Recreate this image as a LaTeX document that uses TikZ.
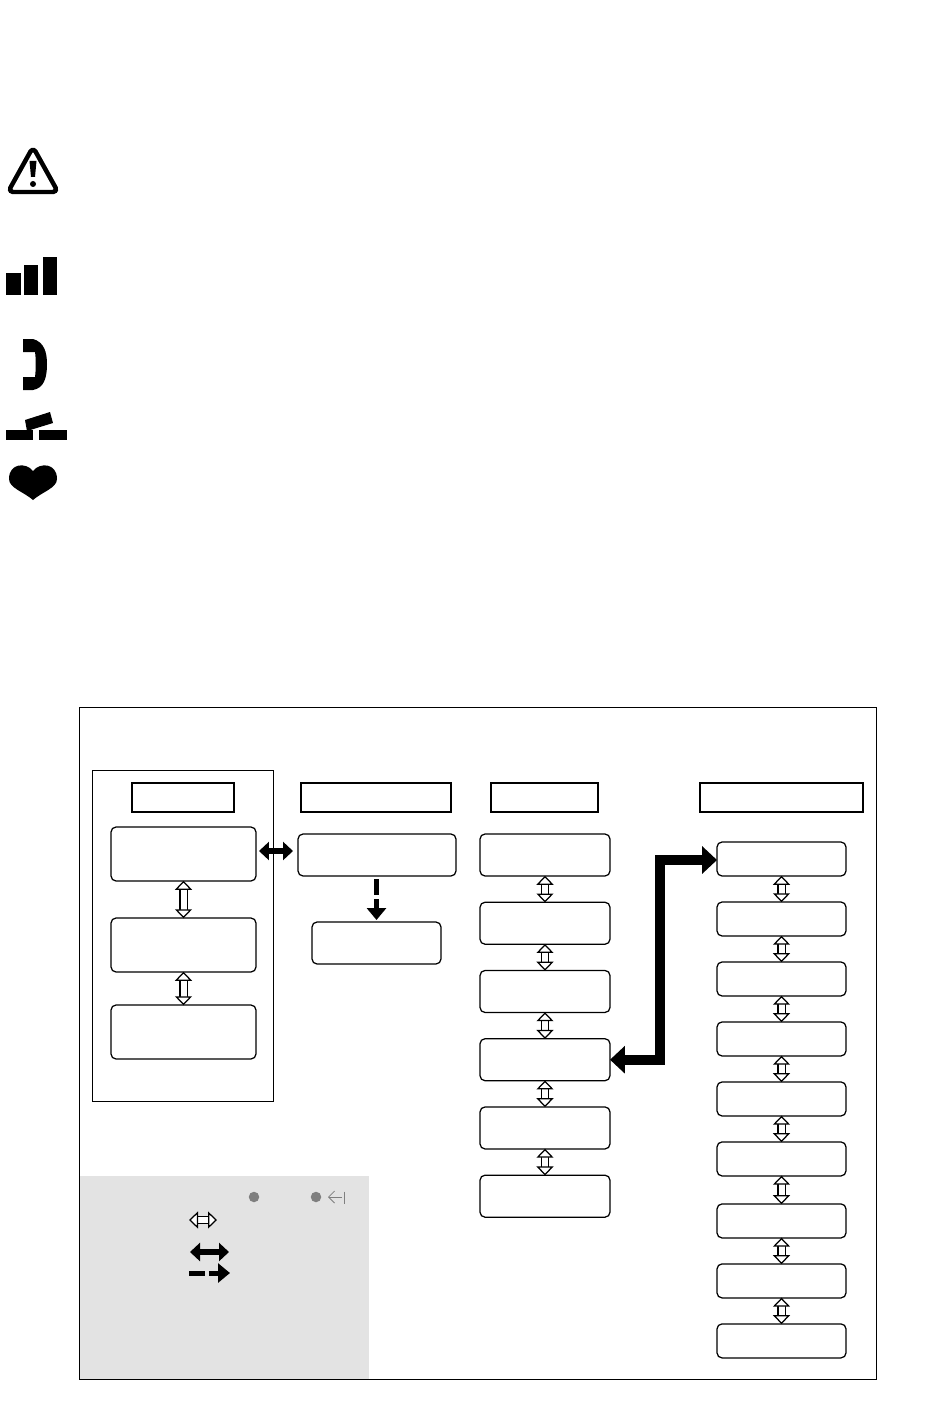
\documentclass[tikz,border=0pt]{standalone}
\usepackage{xcolor}
\usetikzlibrary{arrows.meta, positioning}

\definecolor{legendgray}{HTML}{E3E3E3}
\definecolor{dotgray}{HTML}{7F7F7F}

\tikzset{
  menubox/.style    = {draw, rounded corners = 0.1cm, line width = 0.025cm, outer sep = 0pt, inner sep = 0pt},
  wideitem/.style   = {menubox, minimum width = 2.9cm, minimum height = 1.08cm},
  listitem/.style   = {menubox, minimum width = 2.6cm, minimum height = 0.84cm},
  tinyitem/.style   = {menubox, minimum width = 2.58cm, minimum height = 0.68cm},
  headbox/.style    = {draw, line width = 0.035cm, outer sep = 0pt, inner sep = 0pt, minimum height = 0.58cm},
  hollowlink/.style = {double = white, double distance = 0.12cm, line width = 0.025cm,
                       {Triangle[open, fill = white, length = 0.18cm, width = 0.34cm]}-{Triangle[open, fill = white, length = 0.18cm, width = 0.34cm]},
                       shorten <= -0.005cm, shorten >= -0.005cm},
  boldlink/.style   = {line width = 0.11cm, {Triangle[length = 0.2cm, width = 0.36cm]}-{Triangle[length = 0.2cm, width = 0.36cm]}},
  dashlink/.style   = {line width = 0.1cm, dash pattern = on 0.32cm off 0.08cm, -{Triangle[length = 0.24cm, width = 0.38cm]}},
  jumplink/.style   = {line width = 0.2cm, {Triangle[length = 0.3cm, width = 0.54cm]}-{Triangle[length = 0.3cm, width = 0.54cm]}}
}

\begin{document}
\begin{tikzpicture}[x = 0.02cm, y = -0.02cm]
    \useasboundingbox (0, 0) rectangle (950, 1402);

    % frame and legend ground
    \fill[legendgray] (79.5, 1176) rectangle (369, 1379);
    \draw[line width = 0.02cm] (79.5, 707) rectangle (876, 1379);
    \draw[line width = 0.02cm] (92.5, 770) rectangle (273, 1101);

    % icons down the left side
    \draw[line width = 0.09cm, line join = round, rounded corners = 0.1cm] (33, 147) -- (58, 192) -- (8, 192) -- cycle;
    \fill (29.5, 161) -- (36.5, 161) -- (35, 177) -- (31, 177) -- cycle;
    \fill (33, 184) circle (3);

    \fill (6, 273) rectangle (21, 295);
    \fill (24, 265) rectangle (38, 295);
    \fill (43, 257) rectangle (57, 295);

    \fill (23, 339) -- (33, 339) .. controls (44, 342) and (47, 352) .. (47, 364)
          .. controls (47, 378) and (44, 388) .. (33, 390) -- (23, 390) -- (23, 377)
          -- (35, 377) .. controls (36, 370) and (36, 358) .. (35, 352) -- (23, 352) -- cycle;

    \fill (6, 430) rectangle (33, 440);
    \fill (39, 430) rectangle (67, 440);
    \fill (25, 420) -- (50, 412) -- (53, 423) -- (27, 431) -- cycle;

    \fill (33, 471) .. controls (26, 462) and (9, 463) .. (9, 479)
          .. controls (9, 488) and (24, 492) .. (33, 500)
          .. controls (42, 492) and (57, 488) .. (57, 479)
          .. controls (57, 463) and (40, 462) .. (33, 471) -- cycle;

    % column headers
    \node[headbox, minimum width = 2.04cm] (head1) at (183, 797.5)   {};
    \node[headbox, minimum width = 3cm]    (head2) at (376, 797.5)   {};
    \node[headbox, minimum width = 2.14cm] (head3) at (544.5, 797.5) {};
    \node[headbox, minimum width = 3.26cm] (head4) at (781.5, 797.5) {};

    % first column
    \node[wideitem] (one1) at (183.5, 854)  {};
    \node[wideitem] (one2) at (183.5, 945)  {};
    \node[wideitem] (one3) at (183.5, 1032) {};

    % second column
    \node[listitem, minimum width = 3.16cm] (two1) at (377, 855)   {};
    \node[listitem, minimum width = 2.58cm] (two2) at (376.5, 943) {};

    % third column
    \begin{scope}[node distance = 1.365cm]
    \node[listitem] (three1) at (545, 855)        {};
    \node[listitem] (three2)[below of = three1]   {};
    \node[listitem] (three3)[below of = three2]   {};
    \node[listitem] (three4)[below of = three3]   {};
    \node[listitem] (three5)[below of = three4]   {};
    \node[listitem] (three6)[below of = three5]   {};
    \end{scope}

    % fourth column
    \begin{scope}[node distance = 1.2cm]
    \node[tinyitem] (four1) at (781.5, 859)       {};
    \node[tinyitem] (four2)[below of = four1]     {};
    \node[tinyitem] (four3)[below of = four2]     {};
    \node[tinyitem] (four4)[below of = four3]     {};
    \node[tinyitem] (four5)[below of = four4]     {};
    \node[tinyitem] (four6)[below of = four5]     {};
    \node[tinyitem] (four7)[below of = four6, node distance = 1.24cm] {};
    \node[tinyitem] (four8)[below of = four7]     {};
    \node[tinyitem] (four9)[below of = four8]     {};
    \end{scope}

    % legend marks
    \node[circle, fill = dotgray, minimum size = 0.21cm, inner sep = 0pt] (dot1) at (254, 1197) {};
    \node[circle, fill = dotgray, minimum size = 0.21cm, inner sep = 0pt] (dot2) at (316, 1197) {};
    \coordinate (back0) at (342, 1197);
    \coordinate (back1) at (328, 1197);
    \draw[dotgray, line width = 0.015cm] (344.5, 1191.5) -- (344.5, 1203.5);
    \draw[dotgray, line width = 0.015cm, -{Straight Barb[length = 0.12cm, width = 0.24cm]}] (back0) -- (back1);

    \coordinate (hollow0) at (189, 1220);
    \coordinate (hollow1) at (217, 1220);
    \coordinate (bold0)   at (190, 1252);
    \coordinate (bold1)   at (229, 1252);
    \coordinate (dash0)   at (189, 1273);
    \coordinate (dash1)   at (230, 1273);

    \draw[hollowlink, shorten <= 0pt, shorten >= 0pt] (hollow0) -- (hollow1);
    \draw[boldlink]   (bold0)   -- (bold1);
    \draw[dashlink]   (dash0)   -- (dash1);

    % links between the items
    \draw[hollowlink] (one1) -- (one2);
    \draw[hollowlink] (one2) -- (one3);
    \draw[hollowlink] (three1) -- (three2);
    \draw[hollowlink] (three2) -- (three3);
    \draw[hollowlink] (three3) -- (three4);
    \draw[hollowlink] (three4) -- (three5);
    \draw[hollowlink] (three5) -- (three6);
    \draw[hollowlink] (four1) -- (four2);
    \draw[hollowlink] (four2) -- (four3);
    \draw[hollowlink] (four3) -- (four4);
    \draw[hollowlink] (four4) -- (four5);
    \draw[hollowlink] (four5) -- (four6);
    \draw[hollowlink] (four6) -- (four7);
    \draw[hollowlink] (four7) -- (four8);
    \draw[hollowlink] (four8) -- (four9);

    \draw[boldlink, shorten <= 0.06cm, shorten >= 0.1cm] ([yshift = 0.06cm]one1.east) -- ([yshift = 0.08cm]two1.west);
    \draw[dashlink, shorten <= 0.06cm, shorten >= 0.04cm] (two1.south -| two2) -- (two2);
    \draw[jumplink] (three4.east) -| (660, 860) -- (four1.west |- 0, 860);
  \end{tikzpicture}
\end{document}
